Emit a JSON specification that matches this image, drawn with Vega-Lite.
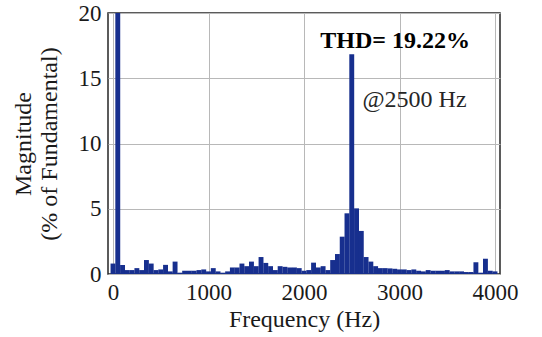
{
  "$schema": "https://vega.github.io/schema/vega-lite/v6.json",
  "autosize": {"type": "none"},
  "padding": {"left": 108, "top": 13, "right": 42, "bottom": 63},
  "width": 392,
  "height": 261,
  "background": "white",
  "config": {
    "view": {"stroke": "#262626", "strokeWidth": 1.5},
    "font": "Times New Roman, Liberation Serif, serif"
  },
  "layer": [
    {
      "data": {"values": [
        {"freq": 0, "mag": 0.8}, {"freq": 50, "mag": 100}, {"freq": 100, "mag": 0.69}, {"freq": 150, "mag": 0.3},
        {"freq": 200, "mag": 0.3}, {"freq": 250, "mag": 0.45}, {"freq": 300, "mag": 0.3}, {"freq": 350, "mag": 1.07},
        {"freq": 400, "mag": 0.8}, {"freq": 450, "mag": 0.3}, {"freq": 500, "mag": 0.35}, {"freq": 550, "mag": 0.7},
        {"freq": 600, "mag": 0.2}, {"freq": 650, "mag": 0.95}, {"freq": 700, "mag": 0.1}, {"freq": 750, "mag": 0.25},
        {"freq": 800, "mag": 0.25}, {"freq": 850, "mag": 0.25}, {"freq": 900, "mag": 0.3}, {"freq": 950, "mag": 0.35},
        {"freq": 1000, "mag": 0.2}, {"freq": 1050, "mag": 0.45}, {"freq": 1100, "mag": 0.2}, {"freq": 1150, "mag": 0.1},
        {"freq": 1200, "mag": 0.2}, {"freq": 1250, "mag": 0.5}, {"freq": 1300, "mag": 0.5}, {"freq": 1350, "mag": 0.8},
        {"freq": 1400, "mag": 0.6}, {"freq": 1450, "mag": 0.95}, {"freq": 1500, "mag": 0.6}, {"freq": 1550, "mag": 1.3},
        {"freq": 1600, "mag": 0.85}, {"freq": 1650, "mag": 0.6}, {"freq": 1700, "mag": 0.3}, {"freq": 1750, "mag": 0.6},
        {"freq": 1800, "mag": 0.55}, {"freq": 1850, "mag": 0.5}, {"freq": 1900, "mag": 0.5}, {"freq": 1950, "mag": 0.45},
        {"freq": 2000, "mag": 0.25}, {"freq": 2050, "mag": 0.3}, {"freq": 2100, "mag": 0.87}, {"freq": 2150, "mag": 0.5},
        {"freq": 2200, "mag": 0.6}, {"freq": 2250, "mag": 0.3}, {"freq": 2300, "mag": 1.07}, {"freq": 2350, "mag": 1.53},
        {"freq": 2400, "mag": 2.86}, {"freq": 2450, "mag": 4.65}, {"freq": 2500, "mag": 16.83}, {"freq": 2550, "mag": 5.03},
        {"freq": 2600, "mag": 3.3}, {"freq": 2650, "mag": 1.3}, {"freq": 2700, "mag": 0.95}, {"freq": 2750, "mag": 0.6},
        {"freq": 2800, "mag": 0.45}, {"freq": 2850, "mag": 0.45}, {"freq": 2900, "mag": 0.43}, {"freq": 2950, "mag": 0.4},
        {"freq": 3000, "mag": 0.35}, {"freq": 3050, "mag": 0.35}, {"freq": 3100, "mag": 0.3}, {"freq": 3150, "mag": 0.35},
        {"freq": 3200, "mag": 0.25}, {"freq": 3250, "mag": 0.2}, {"freq": 3300, "mag": 0.3}, {"freq": 3350, "mag": 0.25},
        {"freq": 3400, "mag": 0.25}, {"freq": 3450, "mag": 0.25}, {"freq": 3500, "mag": 0.3}, {"freq": 3550, "mag": 0.2},
        {"freq": 3600, "mag": 0.2}, {"freq": 3650, "mag": 0.2}, {"freq": 3700, "mag": 0.15}, {"freq": 3750, "mag": 0.15},
        {"freq": 3800, "mag": 0.9}, {"freq": 3850, "mag": 0.1}, {"freq": 3900, "mag": 1.17}, {"freq": 3950, "mag": 0.25},
        {"freq": 4000, "mag": 0.2}
      ]},
      "mark": {"type": "bar", "width": 4.9, "color": "#172f8e", "clip": true},
      "encoding": {
        "x": {
          "field": "freq", "type": "quantitative",
          "scale": {"domain": [0, 4000], "nice": false},
          "axis": {
            "values": [0, 1000, 2000, 3000, 4000], "format": "d",
            "title": "Frequency (Hz)",
            "titleFont": "Times New Roman, Liberation Serif, serif", "titleFontSize": 24, "titleFontWeight": "normal", "titleColor": "#1a1a1a",
            "titlePadding": 3,
            "labelFont": "Times New Roman, Liberation Serif, serif", "labelFontSize": 23, "labelColor": "#1a1a1a", "labelPadding": 7,
            "ticks": false, "domain": false,
            "grid": true, "gridColor": "#b8b8b8", "gridWidth": 1
          }
        },
        "y": {
          "field": "mag", "type": "quantitative",
          "scale": {"domain": [0, 20], "nice": false},
          "axis": {
            "values": [0, 5, 10, 15, 20],
            "title": ["Magnitude", "(% of Fundamental)"],
            "titleFont": "Times New Roman, Liberation Serif, serif", "titleFontSize": 24, "titleFontWeight": "normal", "titleColor": "#1a1a1a",
            "titleLineHeight": 26, "titlePadding": 17,
            "labelFont": "Times New Roman, Liberation Serif, serif", "labelFontSize": 23, "labelColor": "#1a1a1a", "labelPadding": 7,
            "ticks": false, "domain": false,
            "grid": true, "gridColor": "#b8b8b8", "gridWidth": 1
          }
        }
      }
    },
    {
      "data": {"values": [{"freq": 2170, "mag": 17.3, "label": "THD= 19.22%"}]},
      "mark": {"type": "text", "font": "Times New Roman, Liberation Serif, serif", "fontSize": 24, "fontWeight": "bold", "align": "left", "baseline": "alphabetic", "color": "black"},
      "encoding": {
        "x": {"field": "freq", "type": "quantitative"},
        "y": {"field": "mag", "type": "quantitative"},
        "text": {"field": "label"}
      }
    },
    {
      "data": {"values": [{"freq": 2612, "mag": 12.8, "label": "@2500 Hz"}]},
      "mark": {"type": "text", "font": "Times New Roman, Liberation Serif, serif", "fontSize": 24, "align": "left", "baseline": "alphabetic", "color": "#262626"},
      "encoding": {
        "x": {"field": "freq", "type": "quantitative"},
        "y": {"field": "mag", "type": "quantitative"},
        "text": {"field": "label"}
      }
    }
  ]
}
